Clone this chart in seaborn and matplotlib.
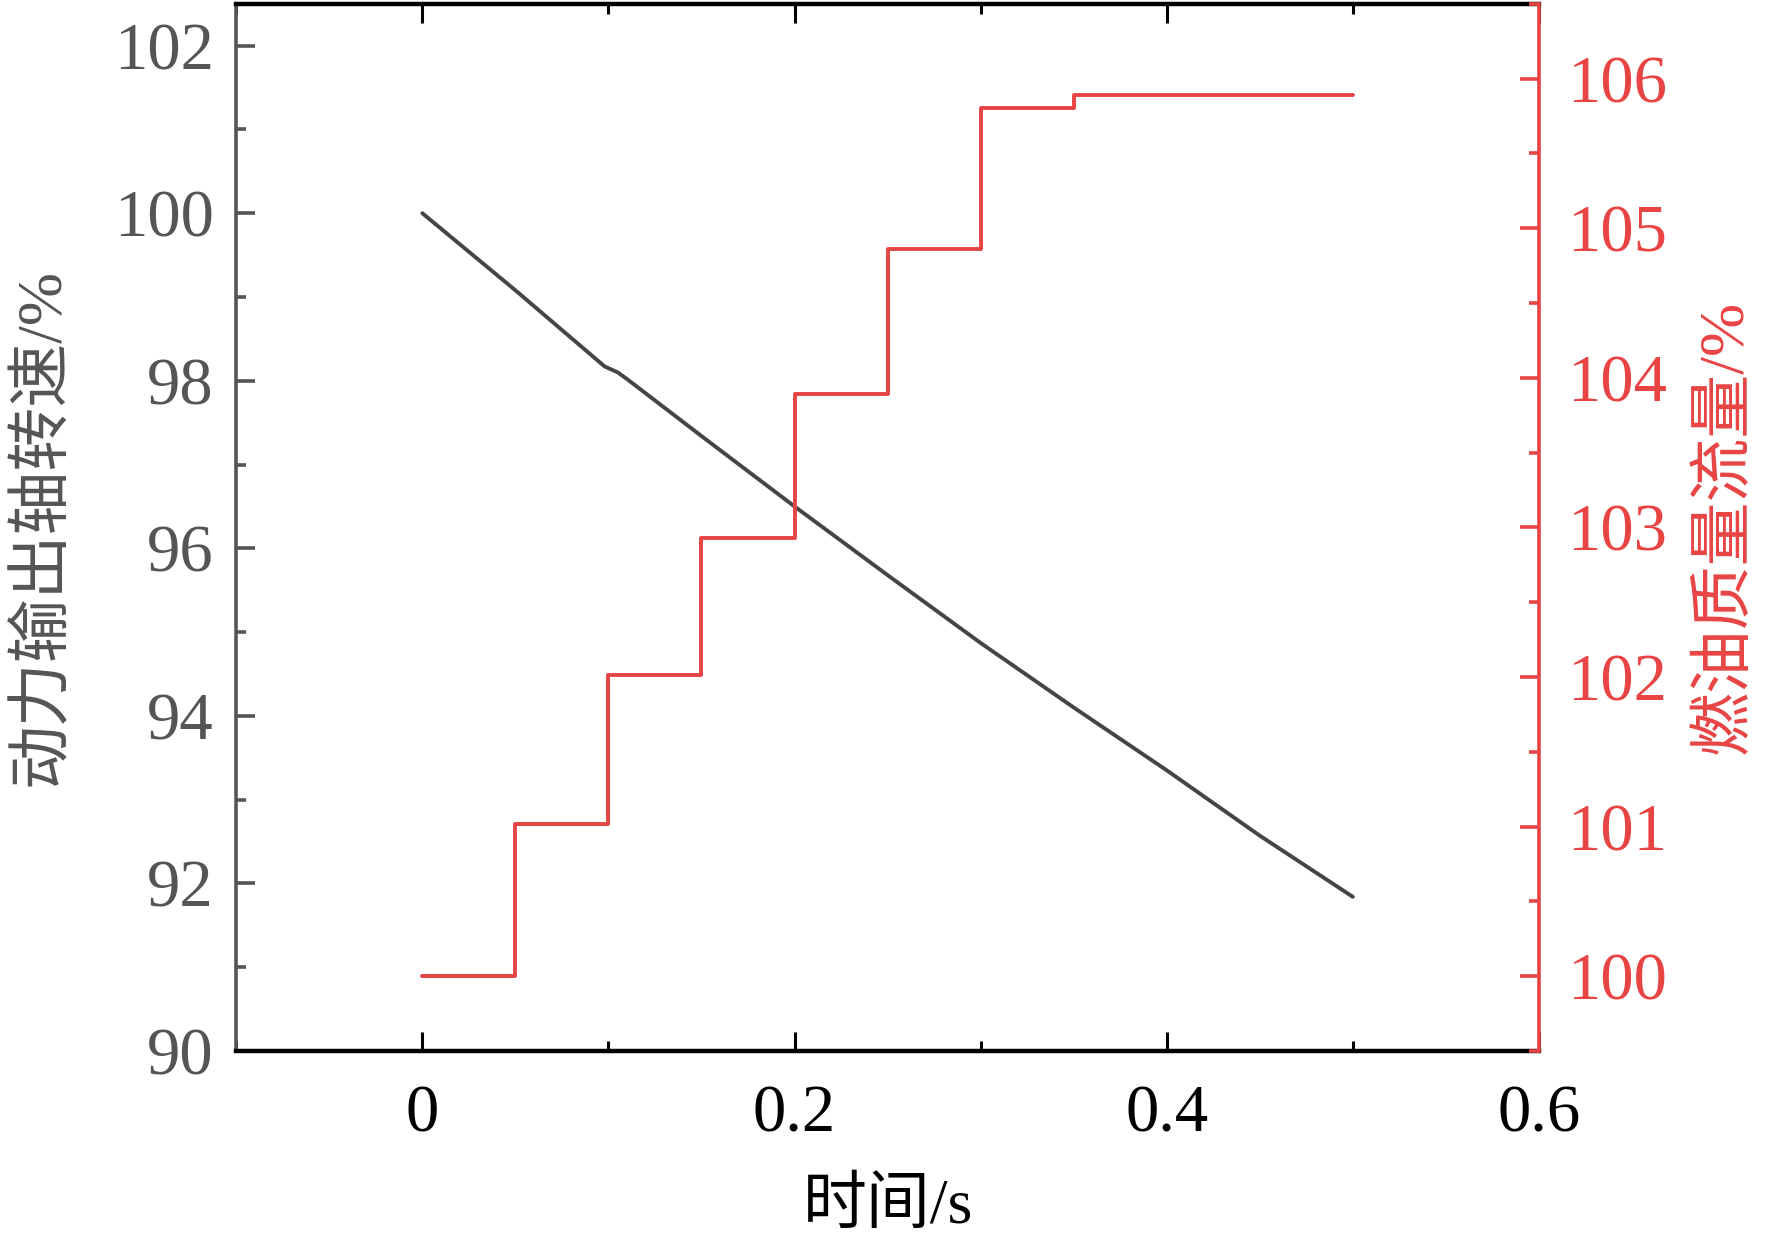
import matplotlib
matplotlib.use("Agg")
import matplotlib.pyplot as plt
import seaborn as sns
from matplotlib.ticker import MultipleLocator

# ====== Data ======
# 动力输出轴转速 (%)
t_speed = [0, 0.05, 0.098, 0.101, 0.105, 0.11, 0.15, 0.2, 0.25, 0.3, 0.35, 0.4, 0.45, 0.5]
speed = [100.0, 99.08, 98.17, 98.14, 98.10, 98.02, 97.34, 96.50, 95.68, 94.87, 94.10, 93.35, 92.57, 91.84]

# 燃油质量流量 (%), step changes
t_fuel = [0, 0.05, 0.1, 0.15, 0.2, 0.25, 0.3, 0.35, 0.5]
fuel = [100.0, 101.02, 102.01, 102.93, 103.89, 104.86, 105.80, 105.89, 105.89]

x_ticks = [0, 0.2, 0.4, 0.6]
x_tick_labels = ["0", "0.2", "0.4", "0.6"]
left_ticks = [90, 92, 94, 96, 98, 100, 102]
right_ticks = [100, 101, 102, 103, 104, 105, 106]

x_label = "时间/s"
left_label = "动力输出轴转速/%"
right_label = "燃油质量流量/%"

# ====== Style ======
sns.set_theme(style="ticks")
plt.rcParams["font.family"] = ["Liberation Serif", "Noto Sans CJK SC"]
plt.rcParams["axes.unicode_minus"] = False

GRAY = "#555555"
LINE = "#454545"
RED = "#e84444"
FS = 48

fig = plt.figure(figsize=(17.72, 12.5), dpi=100)
ax = fig.add_axes([0.1333, 0.1592, 0.8685 - 0.1333, 0.997 - 0.1592])
ax2 = ax.twinx()

sns.lineplot(x=t_speed, y=speed, ax=ax, color=LINE, linewidth=2.8)
sns.lineplot(x=t_fuel, y=fuel, ax=ax2, color=RED, linewidth=2.8, drawstyle="steps-post")

# ====== Left / bottom axis ======
ax.set_xlim(-0.1, 0.6)
ax.set_ylim(90, 102.5)
ax.set_xticks(x_ticks)
ax.set_xticklabels(x_tick_labels)
ax.xaxis.set_minor_locator(MultipleLocator(0.1))
ax.set_yticks(left_ticks)
ax.set_yticklabels([str(v) for v in left_ticks])
ax.yaxis.set_minor_locator(MultipleLocator(1))

ax.spines["bottom"].set_color("black")
ax.spines["bottom"].set_linewidth(3.2)
ax.spines["top"].set_color("black")
ax.spines["top"].set_linewidth(3.2)
ax.spines["left"].set_color(GRAY)
ax.spines["left"].set_linewidth(2.6)
ax.spines["right"].set_visible(False)

ax.tick_params(axis="x", which="both", direction="in", top=True, bottom=True,
               colors="black", labelsize=FS, pad=24)
ax.tick_params(axis="x", which="major", length=14, width=2.2)
ax.tick_params(axis="x", which="minor", length=7, width=2.2)
ax.tick_params(axis="y", which="both", direction="in", left=True, right=False,
               colors=GRAY, labelsize=FS, pad=16)
ax.tick_params(axis="y", which="major", length=14, width=2.6)
ax.tick_params(axis="y", which="minor", length=7, width=2.6)

ax.set_xlabel(x_label, fontsize=46, color="black", labelpad=24)
ax.set_ylabel(left_label, fontsize=46, color=GRAY, labelpad=30)

# ====== Right axis ======
ax2.set_ylim(99.5, 106.5)
ax2.set_yticks(right_ticks)
ax2.set_yticklabels([str(v) for v in right_ticks])
ax2.yaxis.set_minor_locator(MultipleLocator(0.5))
for s in ["left", "top", "bottom"]:
    ax2.spines[s].set_visible(False)
ax2.spines["right"].set_color(RED)
ax2.spines["right"].set_linewidth(2.6)
ax2.tick_params(axis="y", which="both", direction="in", colors=RED,
                labelsize=FS, pad=20)
ax2.tick_params(axis="y", which="major", length=14, width=2.6)
ax2.tick_params(axis="y", which="minor", length=7, width=2.6)
ax2.set_ylabel(right_label, fontsize=46, color=RED, labelpad=22, rotation=90)

ax.grid(False)
ax2.grid(False)

fig.savefig("out.png", dpi=100)
plt.close(fig)
